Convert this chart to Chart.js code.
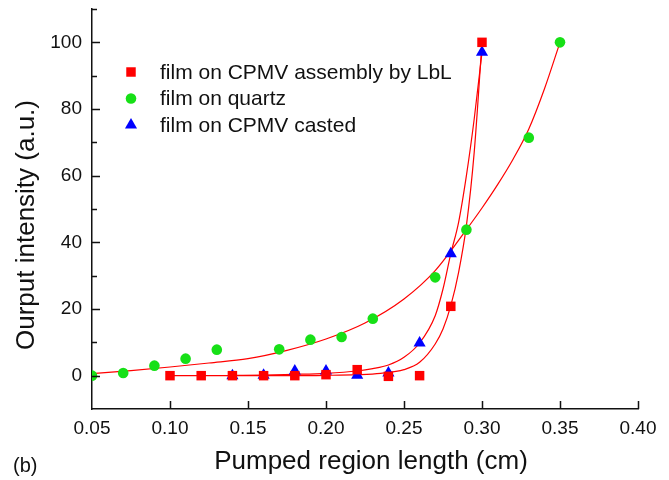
<!DOCTYPE html>
<html>
<head>
<meta charset="utf-8">
<script src="https://cdn.jsdelivr.net/npm/chart.js@4/dist/chart.umd.min.js"></script>
<style>
  html, body { margin: 0; padding: 0; background: #fff; }
  #wrap { width: 669px; height: 480px; position: relative; }
</style>
</head>
<body>
<div id="wrap"><canvas id="gainChart"></canvas></div>
<script>
// Measured points
const lblX = [0.10, 0.12, 0.14, 0.16, 0.18, 0.20, 0.22, 0.24, 0.26, 0.28, 0.30];
const lblY = [0, 0, 0, 0, 0, 0.3, 1.8, -0.2, 0, 20.8, 100];

const quartzX = [0.05, 0.07, 0.09, 0.11, 0.13, 0.17, 0.19, 0.21, 0.23, 0.27, 0.29, 0.33, 0.35];
const quartzY = [0, 0.8, 3, 5.1, 7.8, 7.9, 10.8, 11.6, 17.1, 29.5, 43.8, 71.4, 100];

const castX = [0.14, 0.16, 0.18, 0.20, 0.22, 0.24, 0.26, 0.28, 0.30];
const castY = [0, 0.1, 1.4, 1.4, 0.1, 0.8, 9.8, 36.6, 97];

// Fit curves
const fitQuartzX = [0.05, 0.075, 0.10, 0.125, 0.15, 0.175, 0.20, 0.225, 0.25, 0.27, 0.29, 0.30, 0.31, 0.32, 0.33, 0.34, 0.35];
const fitQuartzY = [0.6, 1.5, 2.6, 3.8, 5.1, 7.6, 11, 15.8, 23, 31.5, 43.8, 50.3, 57.3, 65, 74, 86, 100];

const fitCastX = [0.14, 0.16, 0.18, 0.20, 0.22, 0.23, 0.24, 0.25, 0.26, 0.27, 0.275, 0.28, 0.285, 0.29, 0.295, 0.30];
const fitCastY = [0.1, 0.2, 0.4, 0.7, 1.4, 2.1, 3.2, 5.5, 9.8, 18, 26, 36.6, 46, 60, 77, 97];

const fitLblX = [0.10, 0.14, 0.18, 0.20, 0.22, 0.235, 0.25, 0.26, 0.27, 0.275, 0.28, 0.285, 0.29, 0.295, 0.30];
const fitLblY = [0, 0, 0, 0.1, 0.3, 0.7, 1.8, 4, 9.5, 14, 21, 31, 45, 67, 100];

const xTicks = [0.05, 0.10, 0.15, 0.20, 0.25, 0.30, 0.35, 0.40];
const yTicks = [0, 20, 40, 60, 80, 100];

const seriesNames = ['film on CPMV assembly by LbL', 'film on quartz', 'film on CPMV casted'];

const FONT = 'Arial, "Liberation Sans", sans-serif';
const RED = '#ff0000';
const GREEN = '#17e017';
const BLUE = '#0000ff';

const toPoints = (xs, ys) => xs.map((x, i) => ({ x: x, y: ys[i] }));

const fitLine = (xs, ys) => ({
    data: toPoints(xs, ys),
    showLine: true,
    borderColor: RED,
    borderWidth: 1.2,
    pointRadius: 0,
    cubicInterpolationMode: 'monotone',
    fill: false,
    order: 2
});

const markers = (xs, ys, style, color, radius, label) => ({
    label: label,
    data: toPoints(xs, ys),
    showLine: false,
    pointStyle: style,
    pointRadius: radius,
    pointBackgroundColor: color,
    pointBorderColor: color,
    pointBorderWidth: 0,
    order: 1
});

// Inward tick marks, legend and axis titles
const decorPlugin = {
    id: 'decor',
    afterDraw(chart) {
        const ctx = chart.ctx;
        const xs = chart.scales.x;
        const ys = chart.scales.y;
        const area = chart.chartArea;
        ctx.save();
        ctx.strokeStyle = '#111';
        ctx.lineWidth = 1.5;
        ctx.beginPath();
        for (let v = 0; v <= 110; v += 10) {
            const py = Math.round(ys.getPixelForValue(v)) + 0.5;
            const len = v % 20 === 0 ? 8 : 5;
            ctx.moveTo(area.left, py);
            ctx.lineTo(area.left + len, py);
        }
        xTicks.slice(1).forEach(v => {
            const px = Math.round(xs.getPixelForValue(v)) + 0.5;
            ctx.moveTo(px, area.bottom);
            ctx.lineTo(px, area.bottom - 8);
        });
        ctx.stroke();

        // legend
        const rows = [
            { style: 'rect', color: RED, r: 6.7 },
            { style: 'circle', color: GREEN, r: 5.3 },
            { style: 'triangle', color: BLUE, r: 7 }
        ];
        ctx.font = '21px ' + FONT;
        ctx.textBaseline = 'middle';
        ctx.textAlign = 'left';
        rows.forEach((row, i) => {
            const cy = 72 + i * 26.5;
            ctx.fillStyle = row.color;
            ctx.strokeStyle = row.color;
            Chart.helpers.drawPoint(ctx, { pointStyle: row.style, radius: row.r, borderWidth: 0, rotation: 0 }, 131, cy);
            ctx.fillStyle = '#111';
            ctx.fillText(seriesNames[i], 160, cy + 1);
        });

        // axis titles
        ctx.fillStyle = '#111';
        ctx.font = '26px ' + FONT;
        ctx.textAlign = 'center';
        ctx.fillText('Pumped region length (cm)', 371, 462);
        ctx.save();
        ctx.translate(27, 225);
        ctx.rotate(-Math.PI / 2);
        ctx.fillText('Ourput intensity (a.u.)', 0, 0);
        ctx.restore();

        ctx.font = '20px ' + FONT;
        ctx.textAlign = 'left';
        ctx.fillText('(b)', 13, 466);
        ctx.restore();
    }
};

new Chart(document.getElementById('gainChart').getContext('2d'), {
    type: 'scatter',
    data: {
        datasets: [
            markers(lblX, lblY, 'rect', RED, 6.7, seriesNames[0]),
            markers(quartzX, quartzY, 'circle', GREEN, 5.3, seriesNames[1]),
            markers(castX, castY, 'triangle', BLUE, 7, seriesNames[2]),
            fitLine(fitQuartzX, fitQuartzY),
            fitLine(fitCastX, fitCastY),
            fitLine(fitLblX, fitLblY)
        ]
    },
    options: {
        responsive: true,
        maintainAspectRatio: false,
        animation: false,
        layout: { padding: { left: 0, top: 9, right: 31, bottom: 0 } },
        plugins: {
            legend: { display: false },
            tooltip: { enabled: false }
        },
        scales: {
            x: {
                type: 'linear',
                min: 0.05,
                max: 0.40,
                afterBuildTicks: scale => { scale.ticks = xTicks.map(v => ({ value: v })); },
                afterFit: scale => {
                    scale.height = 71;
                    scale.paddingLeft = 0;
                    scale.paddingRight = 0;
                },
                grid: { drawOnChartArea: false, drawTicks: false },
                border: { display: true, color: '#111', width: 1.5 },
                ticks: {
                    padding: 8,
                    color: '#111',
                    font: { family: FONT, size: 19 },
                    maxRotation: 0,
                    callback: v => v.toFixed(2)
                }
            },
            y: {
                type: 'linear',
                min: -10,
                max: 110,
                afterBuildTicks: scale => { scale.ticks = yTicks.map(v => ({ value: v })); },
                afterFit: scale => {
                    scale.width = 92;
                    scale.paddingTop = 0;
                    scale.paddingBottom = 0;
                },
                grid: { drawOnChartArea: false, drawTicks: false },
                border: { display: true, color: '#111', width: 1.5 },
                ticks: {
                    padding: 10,
                    color: '#111',
                    font: { family: FONT, size: 19 },
                    callback: v => String(v)
                }
            }
        }
    },
    plugins: [decorPlugin]
});
</script>
</body>
</html>
